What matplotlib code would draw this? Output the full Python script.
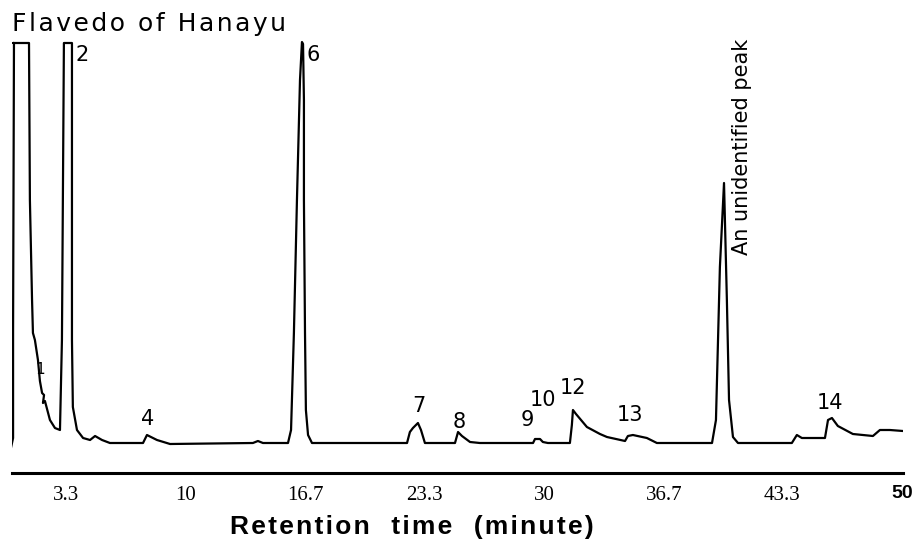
import matplotlib
matplotlib.use('Agg')
import matplotlib.pyplot as plt

# chromatogram trace (time in minutes, detector response in arbitrary units)
time_min = [0.22, 0.34, 0.34, 0.39, 0.34, 1.23, 1.28, 1.40, 1.45, 1.56, 1.73, 1.84, 1.96, 2.07,
            2.01, 2.12, 2.40, 2.68, 2.96, 3.07, 3.18, 3.63, 3.63, 3.63, 3.68, 3.91, 4.25, 4.64,
            4.92, 5.31, 5.75, 7.60, 7.82, 8.38, 9.11, 13.74, 14.02, 14.30, 15.70, 15.87, 16.03,
            16.20, 16.37, 16.48, 16.54, 16.59, 16.59, 16.65, 16.70, 16.82, 17.04, 22.35, 22.51,
            22.68, 22.96, 23.13, 23.35, 25.03, 25.20, 25.42, 25.87, 26.42, 29.39, 29.50, 29.78,
            29.94, 30.22, 31.45, 31.56, 31.62, 31.79, 32.40, 33.13, 33.52, 34.53, 34.69, 34.97,
            35.75, 36.31, 39.39, 39.61, 39.83, 40.06, 40.22, 40.34, 40.56, 40.84, 43.85, 44.13,
            44.41, 45.70, 45.87, 46.09, 46.42, 47.26, 48.38, 48.77, 49.33, 50.06]
response = [-5, 5, 113, 400, 400, 400, 243, 143, 110, 103, 83, 62, 50, 48,
            40, 42, 23, 15, 13, 103, 400, 400, 143, 103, 36, 13, 5, 3,
            7, 3, 0, 0, 8, 3, -1, 0, 2, 0, 0, 13, 110,
            243, 363, 401, 399, 343, 243, 110, 33, 8, 0, 0, 11,
            15, 20, 13, 0, 0, 11, 7, 1, 0, 0, 4, 4,
            1, 0, 0, 18, 33, 29, 16, 9, 6, 2, 7, 8,
            5, 0, 0, 23, 176, 260, 143, 43, 6, 0, 0, 8,
            5, 5, 23, 25, 17, 9, 7, 13, 13, 12]

# peak labels and where they sit
peak_labels = ['1', '2', '4', '6', '7', '8', '9', '10', '12', '13', '14']
peak_label_t = [1.84, 4.19, 7.88, 17.09, 23.02, 25.25, 29.05, 29.94, 31.62, 34.80, 45.98]
peak_label_s = [73, 388, 24, 388, 37, 21, 23, 43, 55, 28, 40]

tick_values = [3.3, 10, 16.7, 23.3, 30, 36.7, 43.3, 50]
tick_labels = ['3.3', '10', '16.7', '23.3', '30', '36.7', '43.3', '50']

HAIR = '\u200a'


def spaced(s):
    # the original lettering is spread out a little
    return HAIR.join(s)


fig = plt.figure(figsize=(9.13, 5.41), dpi=100)
ax = fig.add_axes([12 / 913, 68 / 541, 891 / 913, 473 / 541])

ax.plot(time_min, response, color='black', lw=1.6, solid_joinstyle='round')

for lab, t, s in zip(peak_labels, peak_label_t, peak_label_s):
    fs = 11 if lab == '1' else 15
    ax.text(t, s, lab, fontsize=fs, ha='center', va='center', family='DejaVu Sans')

ax.text(41.06, 296, 'An unidentified peak', rotation=90, fontsize=15,
        ha='center', va='center', family='DejaVu Sans')
ax.text(0.28, 419, spaced('Flavedo of Hanayu'), fontsize=18, ha='left', va='center',
        family='DejaVu Sans')

ax.set_xlim(0.28, 50.06)
ax.set_ylim(-30, 443)
for side in ['left', 'right', 'top']:
    ax.spines[side].set_visible(False)
ax.spines['bottom'].set_linewidth(2.2)
ax.set_yticks([])
ax.set_xticks(tick_values)
ax.set_xticklabels(tick_labels, family='Liberation Serif', fontsize=15)
ax.tick_params(axis='x', length=0, pad=9)
last = ax.get_xticklabels()[-1]
last.set_family('Liberation Sans')
last.set_fontweight('bold')
last.set_fontsize(14)

ax.set_xlabel(spaced('Retention  time  (minute)'), fontsize=19, fontweight='bold',
              family=['Liberation Sans', 'DejaVu Sans'])
ax.xaxis.set_label_coords((412 - 12) / 891, -0.088)

plt.savefig('out.png', dpi=100, facecolor='white')
plt.close()
